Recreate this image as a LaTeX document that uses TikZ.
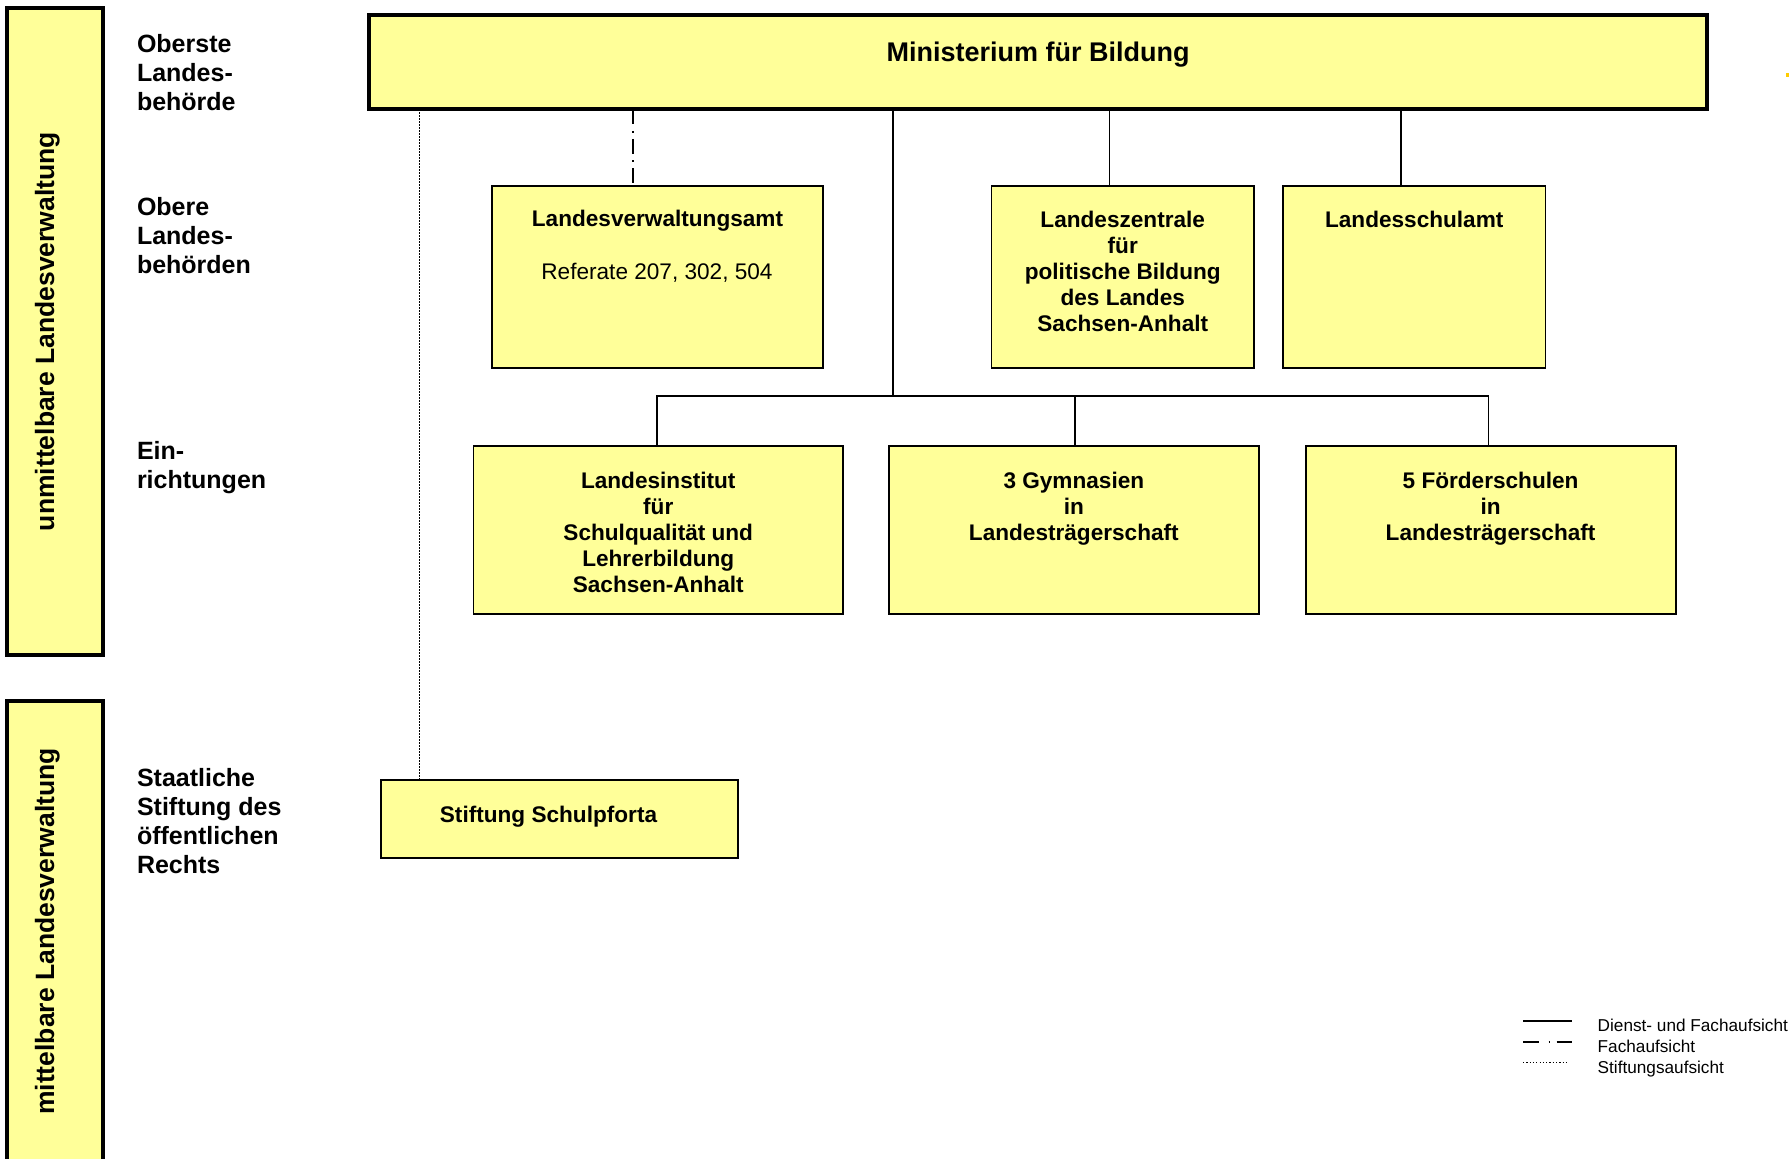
\documentclass[tikz,border=0pt]{standalone}
\usepackage{fontspec}
\setmainfont{Liberation Sans}
\newcommand{\mlc}[1]{\begin{tabular}[t]{@{}c@{}}#1\end{tabular}}
\newcommand{\mll}[1]{\begin{tabular}[t]{@{}l@{}}#1\end{tabular}}
\definecolor{boxyellow}{RGB}{255,255,153}
\definecolor{markyellow}{RGB}{255,204,0}
\tikzset{
  box/.style={draw=black, fill=boxyellow, line width=1.8pt, inner sep=0pt, outer sep=0pt, rectangle},
  thickbox/.style={box, line width=4pt},
  boxtext/.style={inner sep=0pt, outer sep=0pt, anchor=base, font=\fontsize{22.6}{26}\selectfont\bfseries},
  reftext/.style={inner sep=0pt, outer sep=0pt, anchor=base, font=\fontsize{22.6}{26}\selectfont},
  leveltext/.style={inner sep=0pt, outer sep=0pt, anchor=base west, font=\fontsize{25}{29}\selectfont\bfseries},
  bartext/.style={inner sep=0pt, outer sep=0pt, anchor=base, rotate=90, font=\fontsize{26.5}{30}\selectfont\bfseries},
  legtext/.style={inner sep=0pt, outer sep=0pt, anchor=base west, font=\fontsize{17.2}{20}\selectfont},
  conn/.style={draw=black, line width=1.8pt},
  dashdotconn/.style={draw=black, line width=2pt, dash pattern=on 15pt off 6.5pt on 2pt off 6pt},
  dotconn/.style={draw=black, line width=1.5pt, dash pattern=on 1.2pt off 1.8pt},
}
\begin{document}
\begin{tikzpicture}[x=1pt, y=-1pt]
\useasboundingbox (0,0) rectangle (1789,1159);

% side bars
\node[thickbox, minimum width=95.5pt, minimum height=647pt] (barU) at (54.75,331.5) {};
\node[thickbox, minimum width=95.5pt, minimum height=480pt] (barL) at (54.75,941) {};
\node[bartext] (barUt) at (54,331.5) {unmittelbare Landesverwaltung};
\node[bartext] (barLt) at (54,931.5) {mittelbare Landesverwaltung};

% level labels
\node[leveltext] (lv1) at (137,52.3) {\mll{Oberste\\Landes-\\behörde}};
\node[leveltext] (lv2) at (137,215.6) {\mll{Obere\\Landes-\\behörden}};
\node[leveltext] (lv3) at (137,459.6) {\mll{Ein-\\richtungen}};
\node[leveltext] (lv4) at (137,786) {\mll{Staatliche\\Stiftung des\\öffentlichen\\Rechts}};

% boxes
\node[thickbox, minimum width=1338pt, minimum height=94.8pt] (min) at (1038,61.9) {};
\node[boxtext, font=\fontsize{27}{31}\selectfont\bfseries] (mint) at (1038,61) {Ministerium für Bildung};

\node[box, minimum width=331.6pt, minimum height=181.7pt] (lva) at (657.5,276.85) {};
\node[boxtext] (lvat) at (657.5,226.8) {\mlc{Landesverwaltungsamt}};
\node[reftext] (lvar) at (657,279) {Referate 207, 302, 504};

\node[box, minimum width=262.5pt, minimum height=181.7pt] (lz) at (1122.75,276.85) {};
\node[boxtext] (lzt) at (1122.75,227.3) {\mlc{Landeszentrale\\für\\politische Bildung\\des Landes\\Sachsen-Anhalt}};

\node[box, minimum width=262.5pt, minimum height=181.7pt] (lsa) at (1414.25,276.85) {};
\node[boxtext] (lsat) at (1414.25,227.3) {\mlc{Landesschulamt}};

\node[box, minimum width=369.5pt, minimum height=168.3pt] (li) at (658.25,529.85) {};
\node[boxtext] (lit) at (658.25,488) {\mlc{Landesinstitut\\für\\Schulqualität und\\Lehrerbildung\\Sachsen-Anhalt}};

\node[box, minimum width=370.3pt, minimum height=168.3pt] (gy) at (1073.85,529.85) {};
\node[boxtext] (gyt) at (1073.85,488) {\mlc{3 Gymnasien\\in\\Landesträgerschaft}};

\node[box, minimum width=370pt, minimum height=168.3pt] (fs) at (1490.6,529.85) {};
\node[boxtext] (fst) at (1490.6,488) {\mlc{5 Förderschulen\\in\\Landesträgerschaft}};

\node[box, minimum width=357pt, minimum height=78pt] (st) at (559.5,819) {};
\node[boxtext] (stt) at (548.5,822) {Stiftung Schulpforta};

% connector positions
\coordinate (xdot) at (419.5,0);
\coordinate (xdd) at (633,0);
\coordinate (bus) at (893,396);
\coordinate (xlz) at (1109.5,0);
\coordinate (xlsa) at (1401,0);
\coordinate (xli) at (657,0);
\coordinate (xgy) at (1075,0);
\coordinate (xfs) at (1488.5,0);

% connectors
\draw[dotconn] (min.south -| xdot) -- (st.north -| xdot);
\draw[dashdotconn] (min.south -| xdd) -- (lva.north -| xdd);
\draw[conn] (min.south -| bus) -- (bus);
\draw[conn] (min.south -| xlz) -- (lz.north -| xlz);
\draw[conn] (min.south -| xlsa) -- (lsa.north -| xlsa);
\draw[conn] (li.north -| xli) -- (bus -| xli) -- (bus -| xfs) -- (fs.north -| xfs);
\draw[conn] (bus -| xgy) -- (gy.north -| xgy);

% legend
\coordinate (l1a) at (1523,1020.7); \coordinate (l1b) at (1572,1020.7);
\coordinate (l2a) at (1523,1042.3); \coordinate (l2b) at (1572,1042.3);
\coordinate (l3a) at (1523,1062.7); \coordinate (l3b) at (1569,1062.7);
\draw[draw=black, line width=2.2pt] (l1a) -- (l1b);
\draw[draw=black, line width=2pt, dash pattern=on 15.6pt off 10pt on 1.5pt off 6.5pt] (l2a) -- (l2b);
\draw[draw=black, line width=1.2pt, dash pattern=on 1.2pt off 2.1pt] (l3a) -- (l3b);
\node[legtext] (leg1) at (1597.7,1031.7) {Dienst- und Fachaufsicht};
\node[legtext] (leg2) at (1597.7,1052.3) {Fachaufsicht};
\node[legtext] (leg3) at (1597.7,1073) {Stiftungsaufsicht};

% small mark at right edge
\fill[markyellow] (1786,73) rectangle (1789,77);
\end{tikzpicture}
\end{document}
